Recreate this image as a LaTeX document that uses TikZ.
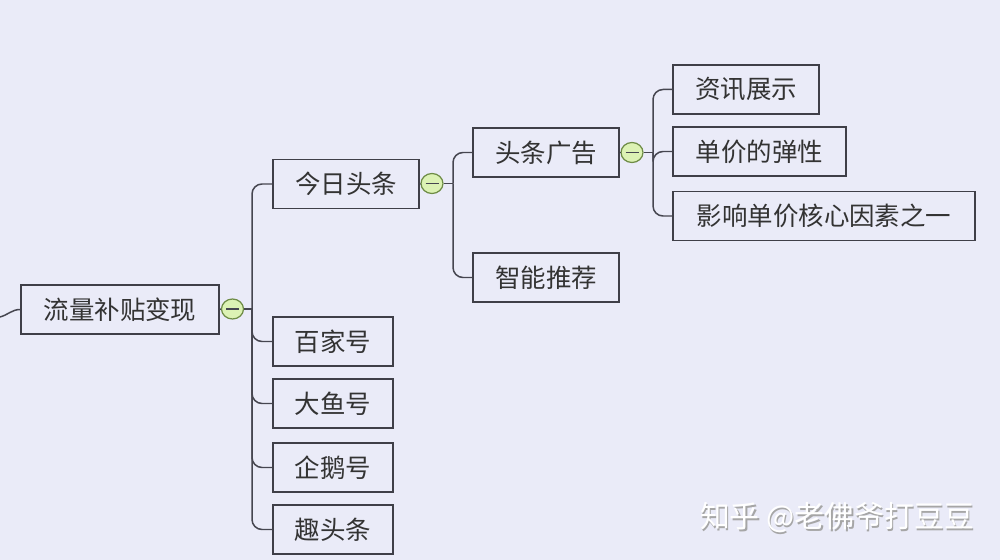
\documentclass[tikz,border=0pt]{standalone}
\usepackage{fontspec}
\newfontfamily\cjk{Noto Sans CJK SC}
\definecolor{paper}{RGB}{234,235,248}
\definecolor{edge}{RGB}{70,70,80}
\definecolor{knob}{RGB}{220,242,180}
\definecolor{knobline}{RGB}{110,140,70}
\tikzset{
  topic/.style={draw=edge!90!black, line width=0.85pt, minimum height=0.98cm, inner sep=0pt, align=center, font=\cjk\fontsize{14.5}{17}\selectfont, text=black!80},
  branch/.style={draw=edge, line width=0.85pt, rounded corners=0.2cm},
  fold/.style={ellipse, draw=knobline, fill=knob, line width=0.7pt, minimum width=0.44cm, minimum height=0.4cm, inner sep=0pt,
    path picture={\draw[edge, line width=1pt] ([xshift=0.09cm]path picture bounding box.west) -- ([xshift=-0.09cm]path picture bounding box.east);}}
}
\usetikzlibrary{shapes.geometric}
\begin{document}
\begin{tikzpicture}[x=0.02cm, y=-0.02cm]
  \fill[paper] (0,0) rectangle (1000,560);
  \useasboundingbox (0,0) rectangle (1000,560);

  % topics
  \node[topic, minimum width=3.96cm] (root) at (120,309.5) {流量补贴变现};
  \node[topic, minimum width=2.92cm] (toutiao) at (346,184) {今日头条};
  \node[topic, minimum width=2.92cm] (guanggao) at (546,152.5) {头条广告};
  \node[topic, minimum width=2.92cm] (zixun) at (746,89.5) {资讯展示};
  \node[topic, minimum width=3.46cm] (danjia) at (759.5,151.5) {单价的弹性};
  \node[topic, minimum width=6.04cm] (yingxiang) at (824,216) {影响单价核心因素之一};
  \node[topic, minimum width=2.92cm] (tuijian) at (546,277.5) {智能推荐};
  \node[topic, minimum width=2.4cm] (baijia) at (333,341.5) {百家号};
  \node[topic, minimum width=2.4cm] (dayu) at (333,403.5) {大鱼号};
  \node[topic, minimum width=2.4cm] (qie) at (333,467.5) {企鹅号};
  \node[topic, minimum width=2.4cm] (qutou) at (333,529.5) {趣头条};

  % fold knobs
  \node[fold] (c0) at (232.5,309) {};
  \node[fold] (c1) at (432,183.5) {};
  \node[fold] (c2) at (632,152.5) {};

  % incoming branch
  \coordinate (in) at (0,317);
  \draw[branch] (in) to[out=15,in=180] (root.west);
  \draw[branch] (root.east) -- (c0.west);

  % level one
  \coordinate (j0) at (252,309);
  \draw[branch] (c0.east) -- (j0);
  \foreach \kid in {toutiao,baijia,dayu,qie,qutou}
    \draw[branch] (j0) |- (\kid.west);

  % level two
  \coordinate (j1) at (453,183.5);
  \draw[branch] (toutiao.east) -- (c1.west);
  \draw[branch] (c1.east) -- (j1);
  \foreach \kid in {guanggao,tuijian}
    \draw[branch] (j1) |- (\kid.west);

  % level three
  \coordinate (j2) at (653,152.5);
  \draw[branch] (guanggao.east) -- (c2.west);
  \draw[branch] (c2.east) -- (j2);
  \foreach \kid in {zixun,danjia,yingxiang}
    \draw[branch] (j2) |- (\kid.west);

  % watermark
  \node[font=\cjk\fontsize{17}{20}\selectfont, text=black!35] (markshade) at (838.5,519.5) {知乎 @老佛爷打豆豆};
  \node[font=\cjk\fontsize{17}{20}\selectfont, text=white] (mark) at (837,518) {知乎 @老佛爷打豆豆};
\end{tikzpicture}
\end{document}
